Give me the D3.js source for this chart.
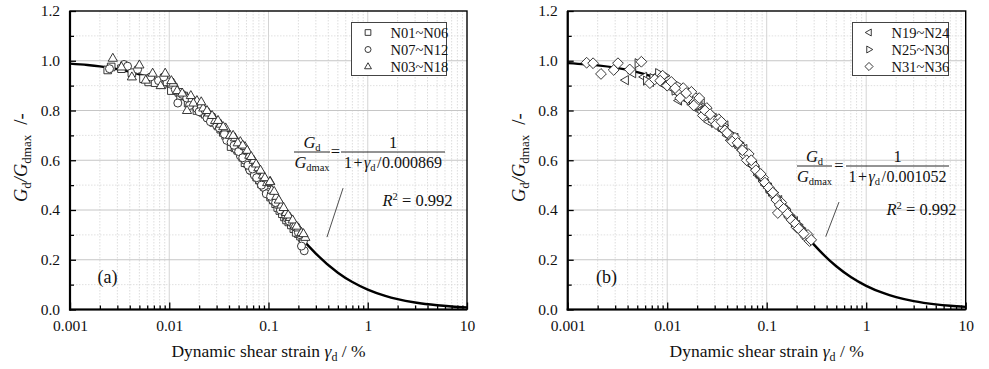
<!DOCTYPE html>
<html><head><meta charset="utf-8">
<script src="https://cdn.jsdelivr.net/npm/d3@7"></script>
<style>body{margin:0;background:#fff;}</style></head><body>
<svg id="c" width="989" height="369"></svg>
<script>
// ---------- data ----------
const xTickValues = [0.001, 0.01, 0.1, 1, 10];
const xTickLabels = ["0.001", "0.01", "0.1", "1", "10"];
const yTickValues = [0, 0.2, 0.4, 0.6, 0.8, 1.0, 1.2];
const yTickLabels = ["0.0", "0.2", "0.4", "0.6", "0.8", "1.0", "1.2"];
const panelLabels = ["(a)", "(b)"];
const legendNamesA = ["N01~N06", "N07~N12", "N03~N18"];
const legendNamesB = ["N19~N24", "N25~N30", "N31~N36"];
const refStrainLabels = ["0.000869", "0.001052"];
const r2Labels = ["0.992", "0.992"];

const fitStrain = [0.001,0.0015,0.002,0.003,0.005,0.007,0.01,0.015,0.02,0.03,0.05,0.07,0.1,0.15,0.2,0.3,0.5,0.7,1,1.5,2,3,5,7,10];
const fitRatioA = [0.9886,0.983,0.9775,0.9666,0.9456,0.9255,0.8968,0.8528,0.8129,0.7434,0.6348,0.5539,0.4650,0.3668,0.3029,0.2246,0.1481,0.1104,0.0800,0.0548,0.0416,0.0282,0.0171,0.0123,0.0086];
const fitRatioB = [0.9906,0.9859,0.9813,0.9723,0.9546,0.9376,0.9132,0.8752,0.8403,0.7781,0.6778,0.6005,0.5127,0.4122,0.3447,0.2596,0.1738,0.1307,0.0952,0.0655,0.0500,0.0339,0.0206,0.0148,0.0104];

const squaresA = [[0.0024,0.963],[0.0026,0.975],[0.0033,0.968],[0.0042,0.952],[0.0055,0.928],[0.0062,0.915],[0.0072,0.912],[0.0085,0.905],[0.0095,0.915],[0.011,0.893],[0.0125,0.873],[0.014,0.858],[0.016,0.838],[0.018,0.822],[0.02,0.812],[0.022,0.792],[0.025,0.772],[0.028,0.752],[0.031,0.738],[0.035,0.712],[0.039,0.690],[0.044,0.668],[0.049,0.640],[0.055,0.612],[0.061,0.588],[0.068,0.560],[0.076,0.532],[0.085,0.505],[0.095,0.478],[0.105,0.452],[0.118,0.425],[0.13,0.398],[0.145,0.372],[0.16,0.352],[0.18,0.325],[0.2,0.305],[0.22,0.288],
  [0.0105,0.88],[0.013,0.86],[0.0155,0.83],[0.019,0.8],[0.023,0.785],[0.027,0.76],[0.033,0.725],[0.037,0.7],[0.042,0.655],[0.046,0.65],[0.058,0.59],[0.064,0.575],[0.072,0.55],[0.081,0.52],[0.09,0.495],[0.1,0.48],[0.112,0.44],[0.124,0.41],[0.138,0.385],[0.152,0.36],[0.17,0.34],[0.19,0.31],[0.21,0.295]];
const circlesA = [[0.0025,0.968],[0.0035,0.985],[0.0038,0.978],[0.0048,0.965],[0.0065,0.935],[0.0078,0.92],[0.0088,0.935],[0.0105,0.905],[0.0122,0.83],[0.0135,0.865],[0.015,0.85],[0.017,0.842],[0.019,0.808],[0.021,0.815],[0.024,0.77],[0.027,0.775],[0.03,0.74],[0.034,0.725],[0.038,0.68],[0.042,0.672],[0.047,0.645],[0.052,0.618],[0.058,0.6],[0.065,0.56],[0.072,0.54],[0.08,0.52],[0.09,0.49],[0.1,0.47],[0.11,0.44],[0.125,0.42],[0.14,0.4],[0.155,0.365],[0.17,0.35],[0.19,0.33],[0.21,0.3],[0.225,0.275],[0.229,0.236],[0.215,0.255],
  [0.0115,0.885],[0.016,0.82],[0.02,0.795],[0.023,0.8],[0.026,0.755],[0.032,0.73],[0.036,0.705],[0.045,0.66],[0.05,0.635],[0.055,0.61],[0.062,0.58],[0.069,0.565],[0.076,0.53],[0.085,0.5],[0.095,0.465],[0.105,0.455],[0.118,0.43],[0.132,0.4],[0.148,0.38],[0.162,0.355],[0.18,0.335],[0.2,0.31]];
const trianglesA = [[0.0027,1.01],[0.0033,0.975],[0.0042,0.935],[0.005,0.983],[0.0058,0.922],[0.0068,0.95],[0.0082,0.9],[0.0091,0.95],[0.011,0.91],[0.012,0.88],[0.0151,0.8],[0.0165,0.86],[0.019,0.84],[0.022,0.81],[0.025,0.79],[0.029,0.76],[0.033,0.745],[0.037,0.73],[0.041,0.7],[0.046,0.69],[0.052,0.675],[0.058,0.655],[0.064,0.62],[0.071,0.6],[0.079,0.57],[0.088,0.54],[0.097,0.51],[0.104,0.515],[0.108,0.48],[0.12,0.455],[0.135,0.42],[0.15,0.39],[0.165,0.37],[0.185,0.34],[0.2,0.328],[0.215,0.31],[0.235,0.29],
  [0.0105,0.92],[0.0135,0.87],[0.0175,0.83],[0.021,0.835],[0.024,0.8],[0.027,0.78],[0.031,0.76],[0.035,0.735],[0.044,0.7],[0.049,0.67],[0.055,0.661],[0.061,0.64],[0.067,0.615],[0.075,0.585],[0.083,0.56],[0.092,0.53],[0.1035,0.514],[0.114,0.475],[0.127,0.44],[0.142,0.41],[0.158,0.38],[0.175,0.36],[0.192,0.335],[0.225,0.305]];

const leftTriB = [[0.0038,0.922],[0.0045,0.95],[0.0058,0.935],[0.0068,0.915],[0.0078,0.94],[0.0088,0.925],[0.011,0.89],[0.0125,0.872],[0.014,0.855],[0.016,0.86],[0.018,0.83],[0.021,0.8],[0.024,0.79],[0.027,0.775],[0.031,0.75],[0.036,0.72],[0.04,0.7],[0.045,0.69],[0.05,0.66],[0.056,0.64],[0.063,0.61],[0.07,0.58],[0.078,0.56],[0.087,0.53],[0.097,0.5],[0.11,0.47],[0.125,0.44],[0.14,0.42],[0.16,0.39],[0.18,0.36],[0.2,0.34],[0.23,0.31],[0.26,0.29],
  [0.0095,0.9],[0.013,0.84],[0.0155,0.845],[0.019,0.815],[0.022,0.83],[0.026,0.755],[0.029,0.77],[0.034,0.73],[0.038,0.74],[0.043,0.68],[0.048,0.69],[0.053,0.65],[0.059,0.645],[0.066,0.595],[0.074,0.575],[0.082,0.54],[0.092,0.515],[0.104,0.49],[0.117,0.46],[0.132,0.44],[0.15,0.4],[0.17,0.37],[0.19,0.355],[0.215,0.325],[0.245,0.295]];
const rightTriB = [[0.0051,0.99],[0.0062,0.92],[0.0072,0.93],[0.0082,0.95],[0.0095,0.94],[0.012,0.88],[0.013,0.9],[0.015,0.87],[0.017,0.84],[0.019,0.86],[0.022,0.82],[0.025,0.8],[0.028,0.77],[0.032,0.76],[0.037,0.74],[0.042,0.71],[0.047,0.68],[0.053,0.67],[0.06,0.63],[0.067,0.6],[0.075,0.575],[0.084,0.55],[0.094,0.52],[0.105,0.49],[0.118,0.47],[0.132,0.43],[0.15,0.41],[0.17,0.38],[0.19,0.35],[0.215,0.33],[0.245,0.3],
  [0.0105,0.9],[0.0135,0.86],[0.016,0.88],[0.018,0.845],[0.0205,0.82],[0.0235,0.8],[0.0265,0.79],[0.03,0.75],[0.035,0.735],[0.039,0.72],[0.044,0.69],[0.05,0.675],[0.057,0.645],[0.064,0.615],[0.071,0.595],[0.08,0.56],[0.089,0.535],[0.1,0.505],[0.112,0.475],[0.125,0.45],[0.14,0.425],[0.16,0.39],[0.18,0.365],[0.2,0.345],[0.23,0.315],[0.27,0.285]];
const diamondsB = [[0.00155,0.992],[0.0018,0.99],[0.00216,0.947],[0.0029,0.963],[0.0032,0.99],[0.0042,0.965],[0.0055,0.996],[0.0067,0.91],[0.0075,0.925],[0.009,0.94],[0.01,0.9],[0.011,0.915],[0.013,0.875],[0.0145,0.89],[0.016,0.85],[0.0175,0.875],[0.02,0.835],[0.0228,0.78],[0.025,0.81],[0.029,0.76],[0.033,0.765],[0.038,0.72],[0.043,0.7],[0.048,0.69],[0.0536,0.661],[0.06,0.62],[0.066,0.625],[0.074,0.58],[0.082,0.55],[0.092,0.53],[0.1,0.5],[0.11,0.48],[0.12,0.455],[0.1294,0.388],[0.14,0.43],[0.155,0.4],[0.17,0.37],[0.185,0.355],[0.2,0.33],[0.22,0.32],[0.25,0.29],[0.27,0.275],[0.26,0.3],
  [0.0085,0.92],[0.012,0.89],[0.0135,0.85],[0.0155,0.87],[0.0185,0.82],[0.021,0.85],[0.024,0.8],[0.027,0.785],[0.031,0.745],[0.035,0.755],[0.04,0.71],[0.045,0.675],[0.051,0.67],[0.057,0.64],[0.063,0.6],[0.07,0.6],[0.078,0.56],[0.087,0.545],[0.096,0.51],[0.105,0.49],[0.115,0.47],[0.125,0.44],[0.135,0.42],[0.148,0.405],[0.162,0.385],[0.178,0.36],[0.195,0.345],[0.21,0.325],[0.235,0.305],[0.28,0.28]];

// ---------- drawing ----------
const FONT = '"Liberation Serif", "Times New Roman", Tinos, serif';
const svg = d3.select("#c");
const shapes = {
  square: s => `M${-3.8*s},${-3.8*s}h${7.6*s}v${7.6*s}h${-7.6*s}Z`,
  circle: s => { const r = 4*s; return `M${r},0A${r},${r} 0 1,1 ${-r},0A${r},${r} 0 1,1 ${r},0Z`; },
  triUp: s => `M0,${-5*s}L${4.6*s},${3*s}L${-4.6*s},${3*s}Z`,
  triLeft: s => `M${-5*s},0L${3*s},${-4.6*s}L${3*s},${4.6*s}Z`,
  triRight: s => `M${5*s},0L${-3*s},${-4.6*s}L${-3*s},${4.6*s}Z`,
  diamond: s => `M0,${-5.4*s}L${5.4*s},0L0,${5.4*s}L${-5.4*s},0Z`
};

function drawPanel(cfg) {
  const x = d3.scaleLog().domain([0.001, 10]).range([cfg.left, cfg.right]);
  const y = d3.scaleLinear().domain([0, 1.2]).range([309.5, 11]);
  const g = svg.append("g");
  const top = y(1.2), bot = y(0);

  // grid
  const minorX = [];
  [0.001, 0.01, 0.1, 1].forEach(d => { for (let k = 2; k <= 9; k++) minorX.push(d * k); });
  g.selectAll(".gxm").data(minorX).join("line")
    .attr("x1", d => x(d)).attr("x2", d => x(d)).attr("y1", top).attr("y2", bot)
    .attr("stroke", "#d4d4d4").attr("stroke-width", 0.8).attr("stroke-dasharray", "1.5,1.5");
  g.selectAll(".gxM").data(xTickValues.slice(1, -1)).join("line")
    .attr("x1", d => x(d)).attr("x2", d => x(d)).attr("y1", top).attr("y2", bot)
    .attr("stroke", "#cfcfcf").attr("stroke-width", 0.9);
  const yMinor = [0.1, 0.3, 0.5, 0.7, 0.9, 1.1];
  g.selectAll(".gym").data(yMinor).join("line")
    .attr("x1", cfg.left).attr("x2", cfg.right).attr("y1", d => y(d)).attr("y2", d => y(d))
    .attr("stroke", "#d8d8d8").attr("stroke-width", 0.8).attr("stroke-dasharray", "1.5,1.5");
  g.selectAll(".gyM").data(yTickValues.slice(1, -1)).join("line")
    .attr("x1", cfg.left).attr("x2", cfg.right).attr("y1", d => y(d)).attr("y2", d => y(d))
    .attr("stroke", "#c6c6c6").attr("stroke-width", 1);

  // fit curve
  const line = d3.line().x(d => x(d[0])).y(d => y(d[1])).curve(d3.curveMonotoneX);
  g.append("path").datum(fitStrain.map((s, i) => [s, cfg.fit[i]]))
    .attr("d", line).attr("fill", "none").attr("stroke", "#000").attr("stroke-width", 2.4);

  // points
  cfg.series.forEach(se => {
    g.selectAll(null).data(se.data).join("path")
      .attr("transform", d => `translate(${x(d[0])},${y(d[1])})`)
      .attr("d", shapes[se.shape](1))
      .attr("fill", "#fff").attr("stroke", "#222").attr("stroke-width", 0.9);
  });

  // frame
  g.append("rect").attr("x", cfg.left).attr("y", top).attr("width", cfg.right - cfg.left).attr("height", bot - top)
    .attr("fill", "none").attr("stroke", "#000").attr("stroke-width", 1.4);
  g.append("line").attr("x1", cfg.left).attr("x2", cfg.left).attr("y1", top).attr("y2", bot + 1)
    .attr("stroke", "#000").attr("stroke-width", 2.2);
  g.append("line").attr("x1", cfg.left - 1).attr("x2", cfg.right).attr("y1", bot).attr("y2", bot)
    .attr("stroke", "#000").attr("stroke-width", 2.2);

  // axes (ticks inward)
  const xAxis = d3.axisBottom(x).tickValues(xTickValues).tickSize(-7).tickPadding(10)
    .tickFormat((d, i) => xTickLabels[i]);
  const xa = g.append("g").attr("transform", `translate(0,${bot})`).call(xAxis);
  const xMinorAxis = d3.axisBottom(x).tickValues(minorX).tickSize(-4).tickFormat("");
  const xm = g.append("g").attr("transform", `translate(0,${bot})`).call(xMinorAxis);
  const yAxis = d3.axisLeft(y).tickValues(yTickValues).tickSize(-6).tickPadding(10)
    .tickFormat((d, i) => yTickLabels[i]);
  const ya = g.append("g").attr("transform", `translate(${cfg.left},0)`).call(yAxis);
  const yMinorAxis = d3.axisLeft(y).tickValues(yMinor).tickSize(-4).tickFormat("");
  const ym = g.append("g").attr("transform", `translate(${cfg.left},0)`).call(yMinorAxis);
  [xa, xm, ya, ym].forEach(a => {
    a.select(".domain").remove();
    a.selectAll(".tick line").attr("stroke", "#000").attr("stroke-width", 1.3);
    a.selectAll("text").attr("font-size", 15.5).attr("fill", "#111");
  });

  // x label
  const xl = g.append("text").attr("x", (cfg.left + cfg.right) / 2).attr("y", 357)
    .attr("text-anchor", "middle").attr("font-size", 17.5);
  xl.append("tspan").text("Dynamic shear strain ");
  xl.append("tspan").attr("font-style", "italic").text("γ");
  xl.append("tspan").attr("font-size", 12).attr("dy", 4).text("d");
  xl.append("tspan").attr("dy", -4).text(" / %");

  // y label
  const yl = g.append("text").attr("transform", `translate(${cfg.left - 43},${cfg.ylStart}) rotate(-90)`)
    .attr("text-anchor", "start").attr("font-size", 18.5);
  yl.append("tspan").attr("font-style", "italic").text("G");
  yl.append("tspan").attr("font-size", 13).attr("dy", 4).text("d");
  yl.append("tspan").attr("dy", -4).attr("font-style", "italic").text("/G");
  yl.append("tspan").attr("font-size", 13).attr("dy", 4).text("dmax");
  yl.append("tspan").attr("dy", -4).attr("dx", 10).text("/-");

  // panel label
  g.append("text").attr("x", cfg.tagX).attr("y", 283).attr("font-size", 18).text(cfg.tag);

  // legend
  const lg = g.append("g");
  lg.append("rect").attr("x", cfg.legend.x).attr("y", 22.5).attr("width", cfg.legend.w).attr("height", 53)
    .attr("fill", "#fff").attr("stroke", "#444").attr("stroke-width", 1);
  cfg.series.forEach((se, i) => {
    const cy = 32.5 + i * 17;
    lg.append("path").attr("transform", `translate(${cfg.legend.x + 16.5},${cy})`)
      .attr("d", shapes[se.shape](0.75)).attr("fill", "#fff").attr("stroke", "#222").attr("stroke-width", 0.9);
    lg.append("text").attr("x", cfg.legend.x + 39).attr("y", cy + 5).attr("font-size", 14.5).text(se.name);
  });

  // formula
  const f = cfg.formula;
  const ly = f.lineY;
  g.append("line").attr("x1", f.l1).attr("x2", f.l2).attr("y1", ly).attr("y2", ly).attr("stroke", "#111").attr("stroke-width", 0.9);
  g.append("line").attr("x1", f.r1).attr("x2", f.r2).attr("y1", ly).attr("y2", ly).attr("stroke", "#111").attr("stroke-width", 0.9);
  const n1 = g.append("text").attr("x", (f.l1 + f.l2) / 2).attr("y", ly - 4).attr("text-anchor", "middle").attr("font-size", 16.5);
  n1.append("tspan").attr("font-style", "italic").text("G");
  n1.append("tspan").attr("font-size", 10.5).attr("dy", 3).text("d");
  const d1 = g.append("text").attr("x", (f.l1 + f.l2) / 2).attr("y", ly + 16).attr("text-anchor", "middle").attr("font-size", 16.5);
  d1.append("tspan").attr("font-style", "italic").text("G");
  d1.append("tspan").attr("font-size", 10.5).attr("dy", 3).text("dmax");
  g.append("text").attr("x", (f.l2 + f.r1) / 2).attr("y", ly + 5).attr("text-anchor", "middle").attr("font-size", 16.5).text("=");
  g.append("text").attr("x", (f.r1 + f.r2) / 2).attr("y", ly - 4).attr("text-anchor", "middle").attr("font-size", 16.5).text("1");
  const d2 = g.append("text").attr("x", (f.r1 + f.r2) / 2).attr("y", ly + 16).attr("text-anchor", "middle").attr("font-size", 16);
  d2.append("tspan").text("1");
  d2.append("tspan").attr("dx", 1.5).text("+");
  d2.append("tspan").attr("dx", 1.5).attr("font-style", "italic").text("γ");
  d2.append("tspan").attr("font-size", 10.5).attr("dy", 3).text("d");
  d2.append("tspan").attr("dy", -3).attr("dx", 1.5).text("/");
  d2.append("tspan").attr("dx", 0.5).text(cfg.ref);

  // R2
  const r2 = g.append("text").attr("x", cfg.r2x).attr("y", cfg.r2y).attr("font-size", 16.5);
  r2.append("tspan").attr("font-style", "italic").text("R");
  r2.append("tspan").attr("font-size", 10.5).attr("dy", -6).text("2");
  r2.append("tspan").attr("dy", 6).text(" = " + cfg.r2);

  // leader line (data coords)
  g.append("line").attr("x1", x(cfg.leader[0][0])).attr("y1", y(cfg.leader[0][1]))
    .attr("x2", x(cfg.leader[1][0])).attr("y2", y(cfg.leader[1][1]))
    .attr("stroke", "#222").attr("stroke-width", 0.8);
}

drawPanel({
  left: 70, right: 467, fit: fitRatioA, ylStart: 202, tag: panelLabels[0], tagX: 97.5,
  series: [
    {name: legendNamesA[0], shape: "square", data: squaresA},
    {name: legendNamesA[1], shape: "circle", data: circlesA},
    {name: legendNamesA[2], shape: "triUp", data: trianglesA}
  ],
  legend: {x: 351.5, w: 95},
  formula: {lineY: 152, l1: 294, l2: 330, r1: 341, r2: 445},
  ref: refStrainLabels[0], r2: r2Labels[0], r2x: 382.5, r2y: 206,
  leader: [[0.564, 0.488], [0.388, 0.291]]
});
drawPanel({
  left: 567.7, right: 965.7, fit: fitRatioB, ylStart: 202, tag: panelLabels[1], tagX: 596,
  series: [
    {name: legendNamesB[0], shape: "triLeft", data: leftTriB},
    {name: legendNamesB[1], shape: "triRight", data: rightTriB},
    {name: legendNamesB[2], shape: "diamond", data: diamondsB}
  ],
  legend: {x: 852.5, w: 96},
  formula: {lineY: 166, l1: 797, l2: 832, r1: 846, r2: 949},
  ref: refStrainLabels[1], r2: r2Labels[1], r2x: 886.5, r2y: 215,
  leader: [[0.533, 0.432], [0.392, 0.293]]
});
svg.selectAll("text").style("font-family", FONT).attr("fill", "#111");
</script>
</body></html>
